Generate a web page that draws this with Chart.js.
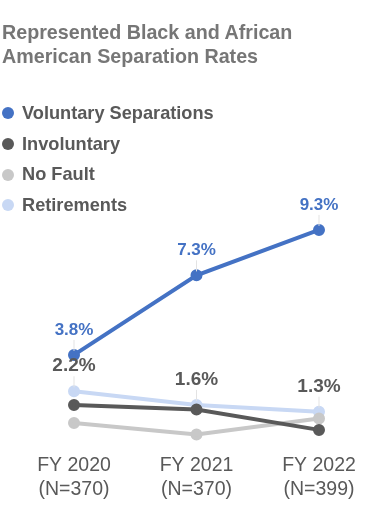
<!DOCTYPE html>
<html>
<head>
<meta charset="utf-8">
<script src="https://cdn.jsdelivr.net/npm/chart.js@4.4.1/dist/chart.umd.min.js"></script>
<style>
  body { margin: 0; background: #fff; font-family: "Liberation Sans", Arial, sans-serif; }
  #wrap { position: relative; width: 391px; height: 522px; overflow: hidden; }
  #title { position: absolute; left: 2px; top: 21px; font-size: 19.7px; font-weight: bold; color: #767676; line-height: 23.5px; }
  #legend { position: absolute; left: 2px; top: 98px; }
  .li { display: flex; align-items: center; height: 30.7px; font-size: 18.2px; font-weight: bold; color: #595959; white-space: nowrap; }
  .dot { width: 12px; height: 12px; border-radius: 50%; margin-right: 8px; }
  canvas { position: absolute; left: 0; top: 0; }
</style>
</head>
<body>
<div id="wrap">
  <canvas id="sepChart" width="391" height="522"></canvas>
  <div id="title">Represented Black and African<br>American Separation Rates</div>
  <div id="legend"></div>
</div>
<script>
var categories = ['FY 2020', 'FY 2021', 'FY 2022'];
var sampleSizes = ['(N=370)', '(N=370)', '(N=399)'];
var voluntary = [3.8, 7.3, 9.3];
var involuntary = [1.6, 1.4, 0.5];
var noFault = [0.8, 0.3, 1.0];
var retirements = [2.2, 1.6, 1.3];

var seriesNames = ['Voluntary Separations', 'Involuntary', 'No Fault', 'Retirements'];
var seriesColors = ['#4472C4', '#595959', '#C8C8C8', '#C8D8F4'];

(function() {
  var tickLabels = categories.map(function(c, i) { return [c, sampleSizes[i]]; });
  var values = [voluntary, involuntary, noFault, retirements];

  // labels drawn above points with a thin leader line
  var pointLabels = {
    id: 'pointLabels',
    afterDatasetsDraw: function(chart) {
      var ctx = chart.ctx;
      var specs = [
        { ds: 0, color: '#4472C4', size: 17 },
        { ds: 3, color: '#595959', size: 19 }
      ];
      ctx.save();
      specs.forEach(function(s) {
        var meta = chart.getDatasetMeta(s.ds);
        meta.data.forEach(function(pt, i) {
          var ly = pt.y - 25;
          ctx.strokeStyle = '#e3e3e3';
          ctx.lineWidth = 1;
          ctx.beginPath();
          ctx.moveTo(pt.x, ly + 10);
          ctx.lineTo(pt.x, pt.y - 4);
          ctx.stroke();
          ctx.fillStyle = s.color;
          ctx.font = 'bold ' + s.size + 'px "Liberation Sans", Arial, sans-serif';
          ctx.textAlign = 'center';
          ctx.textBaseline = 'middle';
          ctx.fillText(values[s.ds][i].toFixed(1) + '%', pt.x, ly);
        });
      });
      ctx.restore();
    }
  };

  var datasets = values.map(function(v, i) {
    return {
      label: seriesNames[i],
      data: v,
      borderColor: seriesColors[i],
      backgroundColor: seriesColors[i],
      borderWidth: 4,
      pointRadius: 4,
      pointHoverRadius: 4,
      tension: 0,
      clip: false
    };
  });

  new Chart(document.getElementById('sepChart').getContext('2d'), {
    type: 'line',
    data: { labels: tickLabels, datasets: datasets },
    options: {
      responsive: false,
      animation: false,
      layout: { padding: { top: 214, bottom: 8, left: 74, right: 72 } },
      plugins: { legend: { display: false }, tooltip: { enabled: false } },
      scales: {
        x: {
          offset: false,
          grid: { display: false, drawTicks: false },
          border: { display: false },
          ticks: {
            padding: 12,
            color: '#595959',
            maxRotation: 0,
            autoSkip: false,
            font: { family: '"Liberation Sans", Arial, sans-serif', size: 19.5, lineHeight: 1.25 }
          }
        },
        y: { display: false, min: 0, max: 10 }
      }
    },
    plugins: [pointLabels]
  });

  var legend = document.getElementById('legend');
  seriesNames.forEach(function(name, i) {
    legend.insertAdjacentHTML('beforeend',
      '<div class="li"><span class="dot" style="background:' + seriesColors[i] + '"></span>' + name + '</div>');
  });
})();
</script>
</body>
</html>
